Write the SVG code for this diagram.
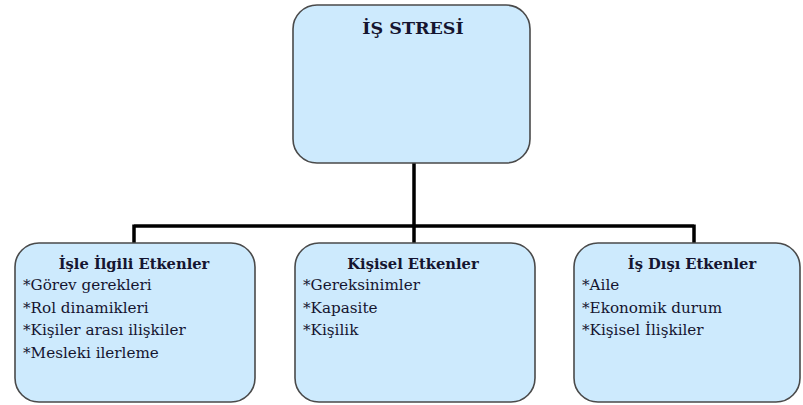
<svg xmlns="http://www.w3.org/2000/svg" width="803" height="405" viewBox="0 0 803 405">
<style>
.box{fill:#cdeafd;stroke:#4a4a4a;stroke-width:1.6}
text{font-family:"DejaVu Serif",serif;fill:#151530}
.h{font-weight:bold;font-size:14.7px;text-anchor:middle}
.i{font-size:15.2px}
.c{stroke:#000;stroke-width:3.5;fill:none}
</style>
<rect width="803" height="405" fill="#fff"/>
<g id="connectors">
<path class="c" d="M414 163V226M134 226H694M134 224.5V243M414 226V243M694 224.5V243"/>
</g>
<g id="top">
<rect class="box" x="293" y="5" width="237" height="158" rx="24"/>
<text class="h" x="413" y="34" style="font-size:17.5px">İŞ STRESİ</text>
</g>
<g id="isle">
<rect class="box" x="15" y="243" width="240" height="159" rx="24"/>
<text class="h" x="134" y="269">İşle İlgili Etkenler</text>
<text class="i" x="23" y="290">*Görev gerekleri</text>
<text class="i" x="23" y="313">*Rol dinamikleri</text>
<text class="i" x="23" y="335">*Kişiler arası ilişkiler</text>
<text class="i" x="23" y="358">*Mesleki ilerleme</text>
</g>
<g id="kisisel">
<rect class="box" x="295" y="243" width="240" height="159" rx="24"/>
<text class="h" x="413" y="269">Kişisel Etkenler</text>
<text class="i" x="303" y="290">*Gereksinimler</text>
<text class="i" x="303" y="313">*Kapasite</text>
<text class="i" x="303" y="335">*Kişilik</text>
</g>
<g id="isdisi">
<rect class="box" x="574" y="243" width="226" height="159" rx="24"/>
<text class="h" x="692" y="269">İş Dışı Etkenler</text>
<text class="i" x="582" y="290">*Aile</text>
<text class="i" x="582" y="313">*Ekonomik durum</text>
<text class="i" x="582" y="335">*Kişisel İlişkiler</text>
</g>
</svg>
